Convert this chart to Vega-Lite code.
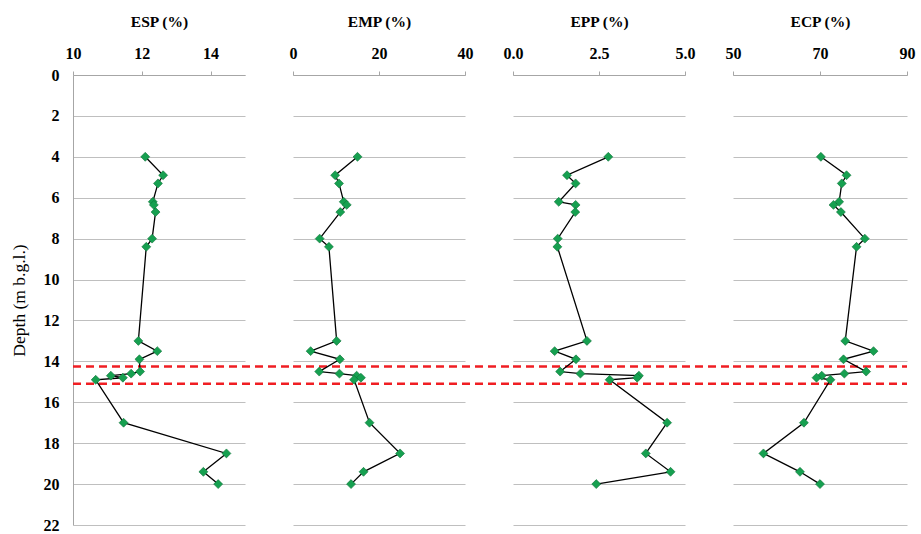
{
  "$schema": "https://vega.github.io/schema/vega-lite/v6.json",
  "background": "white",
  "padding": {"left": 10, "top": 14, "right": 5, "bottom": 5},
  "spacing": 48,
  "bounds": "flush",
  "datasets": {
    "samples": [
      {"depth": 4.0, "ESP": 12.1, "EMP": 15.0, "EPP": 2.77, "ECP": 70.2},
      {"depth": 4.9, "ESP": 12.62, "EMP": 9.8, "EPP": 1.57, "ECP": 76.1},
      {"depth": 5.3, "ESP": 12.47, "EMP": 10.7, "EPP": 1.82, "ECP": 75.0},
      {"depth": 6.2, "ESP": 12.32, "EMP": 11.8, "EPP": 1.33, "ECP": 74.4},
      {"depth": 6.35, "ESP": 12.35, "EMP": 12.5, "EPP": 1.82, "ECP": 73.1},
      {"depth": 6.7, "ESP": 12.4, "EMP": 11.0, "EPP": 1.81, "ECP": 74.8},
      {"depth": 8.0, "ESP": 12.3, "EMP": 6.2, "EPP": 1.3, "ECP": 80.3},
      {"depth": 8.4, "ESP": 12.13, "EMP": 8.35, "EPP": 1.29, "ECP": 78.4},
      {"depth": 13.0, "ESP": 11.9, "EMP": 10.15, "EPP": 2.15, "ECP": 75.8},
      {"depth": 13.5, "ESP": 12.45, "EMP": 4.1, "EPP": 1.21, "ECP": 82.3},
      {"depth": 13.9, "ESP": 11.93, "EMP": 10.9, "EPP": 1.83, "ECP": 75.4},
      {"depth": 14.5, "ESP": 11.95, "EMP": 6.1, "EPP": 1.37, "ECP": 80.6},
      {"depth": 14.6, "ESP": 11.69, "EMP": 10.8, "EPP": 1.96, "ECP": 75.6},
      {"depth": 14.7, "ESP": 11.1, "EMP": 14.8, "EPP": 3.66, "ECP": 70.4},
      {"depth": 14.8, "ESP": 11.45, "EMP": 15.8, "EPP": 3.61, "ECP": 69.2},
      {"depth": 14.9, "ESP": 10.66, "EMP": 14.2, "EPP": 2.81, "ECP": 72.4},
      {"depth": 17.0, "ESP": 11.47, "EMP": 17.8, "EPP": 4.48, "ECP": 66.3},
      {"depth": 18.5, "ESP": 14.46, "EMP": 24.9, "EPP": 3.86, "ECP": 57.0},
      {"depth": 19.4, "ESP": 13.79, "EMP": 16.4, "EPP": 4.58, "ECP": 65.4},
      {"depth": 20.0, "ESP": 14.22, "EMP": 13.5, "EPP": 2.42, "ECP": 70.0}
    ],
    "bounds": [{"depth": 14.25}, {"depth": 15.1}]
  },
  "hconcat": [
    {
      "width": 172, "height": 450,
      "layer": [
        {
          "data": {"name": "bounds"},
          "mark": {"type": "rule", "color": "#f01e23", "strokeWidth": 2.5, "strokeDash": [8, 5], "clip": false},
          "encoding": {
            "y": {"field": "depth", "type": "quantitative", "scale": {"domain": [0, 22], "reverse": true, "nice": false, "zero": false},
                  "axis": {"orient": "left", "title": "Depth (m b.g.l.)", "titleFontWeight": "normal", "titleFontSize": 17.5, "ticks": false, "labelPadding": 14, "titlePadding": 15, "grid": true, "domain": true, "values": [0, 2, 4, 6, 8, 10, 12, 14, 16, 18, 20, 22]}},
            "x": {"datum": 10, "type": "quantitative", "scale": {"domain": [10, 15], "nice": false, "zero": false},
                  "axis": {"orient": "top", "title": "ESP (%)", "grid": false, "values": [10, 12, 14], "tickSize": 4, "labelPadding": 10, "titlePadding": 16, "labelFlush": false}},
            "x2": {"datum": 16.395}
          }
        },
        {
          "data": {"name": "samples"},
          "mark": {"type": "line", "color": "black", "strokeWidth": 1.3},
          "encoding": {
            "y": {"field": "depth", "type": "quantitative"},
            "x": {"field": "ESP", "type": "quantitative", "title": "ESP (%)"},
            "order": {"field": "depth", "type": "quantitative"}
          }
        },
        {
          "data": {"name": "samples"},
          "mark": {"type": "point", "shape": "diamond", "filled": true, "size": 80, "color": "#16a050", "stroke": "#0d7038", "strokeWidth": 0.6, "opacity": 1},
          "encoding": {
            "y": {"field": "depth", "type": "quantitative"},
            "x": {"field": "ESP", "type": "quantitative", "title": "ESP (%)"}
          }
        }
      ]
    },
    {
      "width": 172, "height": 450,
      "layer": [
        {
          "data": {"name": "bounds"},
          "mark": {"type": "rule", "color": "#f01e23", "strokeWidth": 2.5, "strokeDash": [8, 5], "clip": false},
          "encoding": {
            "y": {"field": "depth", "type": "quantitative", "scale": {"domain": [0, 22], "reverse": true, "nice": false, "zero": false},
                  "axis": {"orient": "left", "title": null, "labels": false, "ticks": false, "grid": true, "domain": false, "values": [0, 2, 4, 6, 8, 10, 12, 14, 16, 18, 20, 22]}},
            "x": {"datum": 0, "type": "quantitative", "scale": {"domain": [0, 40], "nice": false, "zero": false},
                  "axis": {"orient": "top", "title": "EMP (%)", "grid": false, "values": [0, 20, 40], "tickSize": 4, "labelPadding": 10, "titlePadding": 16, "labelFlush": false}},
            "x2": {"datum": 51.16}
          }
        },
        {
          "data": {"name": "samples"},
          "mark": {"type": "line", "color": "black", "strokeWidth": 1.3},
          "encoding": {
            "y": {"field": "depth", "type": "quantitative"},
            "x": {"field": "EMP", "type": "quantitative", "title": "EMP (%)"},
            "order": {"field": "depth", "type": "quantitative"}
          }
        },
        {
          "data": {"name": "samples"},
          "mark": {"type": "point", "shape": "diamond", "filled": true, "size": 80, "color": "#16a050", "stroke": "#0d7038", "strokeWidth": 0.6, "opacity": 1},
          "encoding": {
            "y": {"field": "depth", "type": "quantitative"},
            "x": {"field": "EMP", "type": "quantitative", "title": "EMP (%)"}
          }
        }
      ]
    },
    {
      "width": 172, "height": 450,
      "layer": [
        {
          "data": {"name": "bounds"},
          "mark": {"type": "rule", "color": "#f01e23", "strokeWidth": 2.5, "strokeDash": [8, 5], "clip": false},
          "encoding": {
            "y": {"field": "depth", "type": "quantitative", "scale": {"domain": [0, 22], "reverse": true, "nice": false, "zero": false},
                  "axis": {"orient": "left", "title": null, "labels": false, "ticks": false, "grid": true, "domain": false, "values": [0, 2, 4, 6, 8, 10, 12, 14, 16, 18, 20, 22]}},
            "x": {"datum": 0, "type": "quantitative", "scale": {"domain": [0, 5], "nice": false, "zero": false},
                  "axis": {"orient": "top", "title": "EPP (%)", "grid": false, "values": [0, 2.5, 5], "format": ".1f", "tickSize": 4, "labelPadding": 10, "titlePadding": 16, "labelFlush": false}},
            "x2": {"datum": 6.395}
          }
        },
        {
          "data": {"name": "samples"},
          "mark": {"type": "line", "color": "black", "strokeWidth": 1.3},
          "encoding": {
            "y": {"field": "depth", "type": "quantitative"},
            "x": {"field": "EPP", "type": "quantitative", "title": "EPP (%)"},
            "order": {"field": "depth", "type": "quantitative"}
          }
        },
        {
          "data": {"name": "samples"},
          "mark": {"type": "point", "shape": "diamond", "filled": true, "size": 80, "color": "#16a050", "stroke": "#0d7038", "strokeWidth": 0.6, "opacity": 1},
          "encoding": {
            "y": {"field": "depth", "type": "quantitative"},
            "x": {"field": "EPP", "type": "quantitative", "title": "EPP (%)"}
          }
        }
      ]
    },
    {
      "width": 174, "height": 450,
      "layer": [
        {
          "data": {"name": "bounds"},
          "mark": {"type": "rule", "color": "#f01e23", "strokeWidth": 2.5, "strokeDash": [8, 5], "clip": false},
          "encoding": {
            "y": {"field": "depth", "type": "quantitative", "scale": {"domain": [0, 22], "reverse": true, "nice": false, "zero": false},
                  "axis": {"orient": "left", "title": null, "labels": false, "ticks": false, "grid": true, "domain": false, "values": [0, 2, 4, 6, 8, 10, 12, 14, 16, 18, 20, 22]}},
            "x": {"datum": 50, "type": "quantitative", "scale": {"domain": [50, 90], "nice": false, "zero": false},
                  "axis": {"orient": "top", "title": "ECP (%)", "grid": false, "values": [50, 70, 90], "tickSize": 4, "labelPadding": 10, "titlePadding": 16, "labelFlush": false}},
            "x2": {"datum": 90}
          }
        },
        {
          "data": {"name": "samples"},
          "mark": {"type": "line", "color": "black", "strokeWidth": 1.3},
          "encoding": {
            "y": {"field": "depth", "type": "quantitative"},
            "x": {"field": "ECP", "type": "quantitative", "title": "ECP (%)"},
            "order": {"field": "depth", "type": "quantitative"}
          }
        },
        {
          "data": {"name": "samples"},
          "mark": {"type": "point", "shape": "diamond", "filled": true, "size": 80, "color": "#16a050", "stroke": "#0d7038", "strokeWidth": 0.6, "opacity": 1},
          "encoding": {
            "y": {"field": "depth", "type": "quantitative"},
            "x": {"field": "ECP", "type": "quantitative", "title": "ECP (%)"}
          }
        }
      ]
    }
  ],
  "config": {
    "view": {"stroke": null},
    "axis": {
      "labelFont": "Liberation Serif", "labelFontWeight": "bold", "labelFontSize": 16, "labelColor": "black",
      "titleFont": "Liberation Serif", "titleFontWeight": "bold", "titleFontSize": 15.5, "titleColor": "black",
      "domainColor": "#a6a6a6", "tickColor": "#a6a6a6", "gridColor": "#bfbfbf", "gridOpacity": 1
    }
  }
}
